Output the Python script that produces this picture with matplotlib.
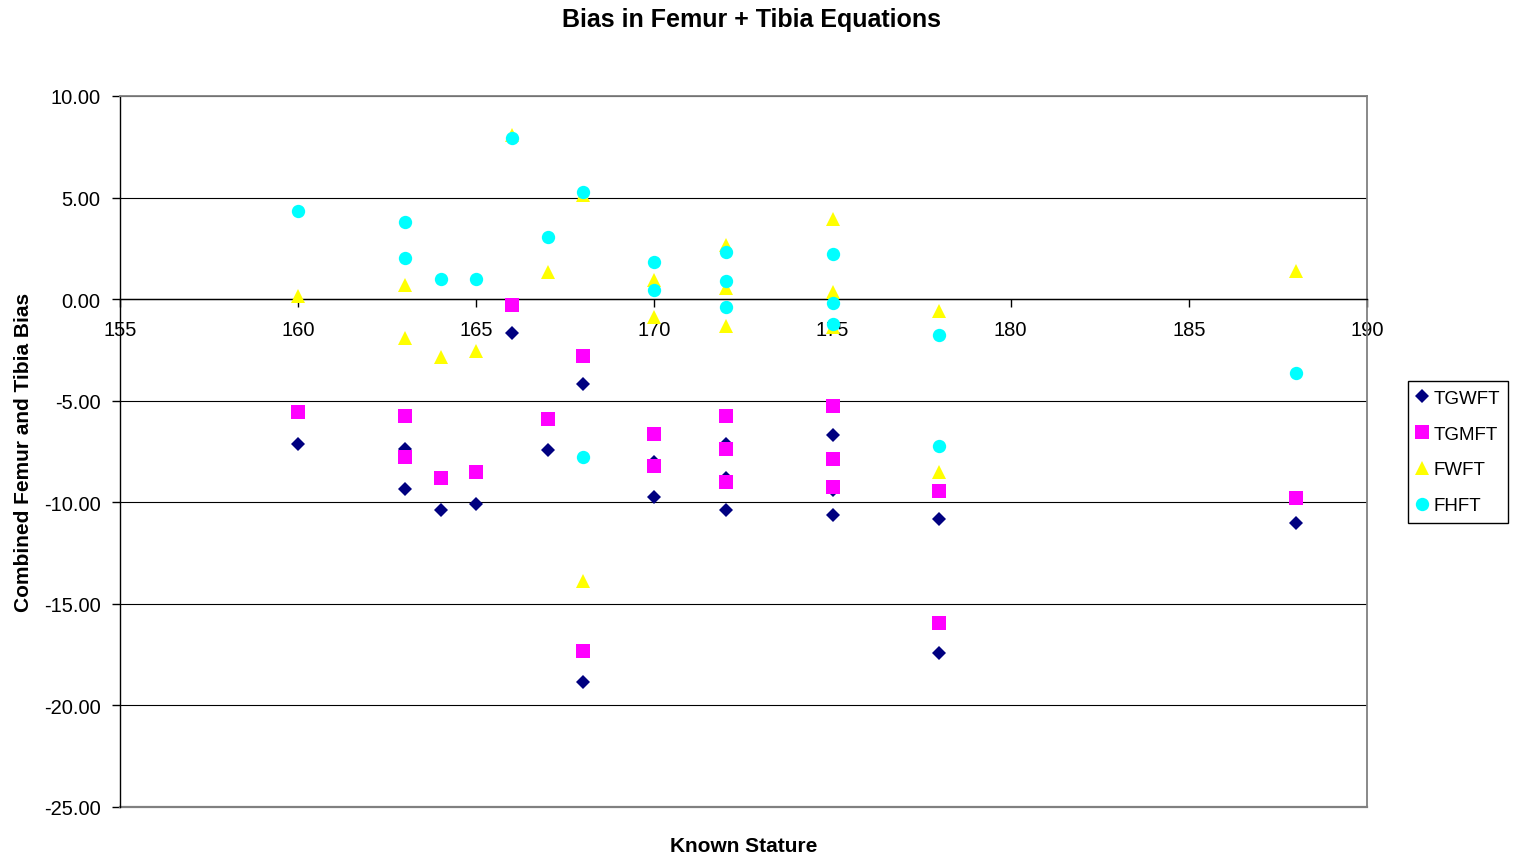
import matplotlib
matplotlib.use("Agg")
import matplotlib.pyplot as plt
from matplotlib.ticker import FuncFormatter, MultipleLocator

plt.rcParams["font.family"] = ["Liberation Sans", "DejaVu Sans"]

# Known stature (cm) for each individual
stature = [160, 163, 163, 164, 165, 166, 167, 168, 168, 170,
           170, 172, 172, 172, 175, 175, 175, 178, 178, 188]

# Combined femur + tibia bias for each equation
tgwft = [-7.14, -7.39, -9.34, -10.37, -10.09, -1.69, -7.42, -4.19, -18.87, -8.04,
         -9.73, -7.14, -8.78, -10.37, -6.68, -9.40, -10.63, -10.83, -17.40, -11.01]
tgmft = [-5.56, -5.74, -7.76, -8.78, -8.50, -0.28, -5.91, -2.79, -17.30, -6.66,
         -8.22, -5.73, -7.40, -8.98, -5.28, -7.88, -9.27, -9.44, -15.92, -9.80]
fwft = [0.15, 0.71, -1.89, -2.87, -2.54, 8.10, 1.36, 5.15, -13.87, 0.95,
        -0.90, 2.66, 0.57, -1.31, 3.94, 0.33, -1.38, -0.57, -8.50, 1.38]
fhft = [4.33, 3.78, 2.02, 0.98, 0.98, 7.93, 3.04, 5.27, -7.76, 1.84,
        0.44, 2.30, 0.90, -0.38, 2.20, -0.20, -1.23, -1.76, -7.22, -3.63]

series = [
    ("TGWFT", tgwft, "D", "#000080", 7.4),
    ("TGMFT", tgmft, "s", "#FF00FF", 9.6),
    ("FWFT", fwft, "^", "#FFFF00", 9.8),
    ("FHFT", fhft, "o", "#00FFFF", 9.6),
]

fig = plt.figure(figsize=(15.15, 8.62), dpi=100)
ax = fig.add_axes([120 / 1515, 1 - 808 / 862, 1247 / 1515, 711 / 862])

for name, vals, mk, col, ms in series:
    ax.plot(stature, vals, linestyle="none", marker=mk, markersize=ms,
            markerfacecolor=col, markeredgecolor=col, markeredgewidth=0,
            label=name, zorder=3)

ax.set_xlim(155, 190)
ax.set_ylim(-25, 10)
ax.xaxis.set_major_locator(MultipleLocator(5))
ax.yaxis.set_major_locator(MultipleLocator(5))
ax.yaxis.set_major_formatter(FuncFormatter(lambda v, p: f"{v:.2f}"))
ax.xaxis.set_major_formatter(FuncFormatter(lambda v, p: f"{v:.0f}"))

ax.grid(axis="y", color="#000000", linewidth=0.8, zorder=1)
ax.set_axisbelow(True)

# Plot-area frame in grey; category axis crosses at zero
for side in ("top", "right"):
    ax.spines[side].set_color("#808080")
    ax.spines[side].set_linewidth(1.3)
ax.spines["left"].set_color("#000000")
ax.spines["left"].set_linewidth(1.0)
ax.spines["bottom"].set_position(("data", 0))
ax.spines["bottom"].set_color("#000000")
ax.spines["bottom"].set_linewidth(1.0)
ax.axhline(-25, color="#808080", linewidth=1.6, zorder=1, clip_on=False)

ax.tick_params(axis="x", direction="out", length=6, width=1, pad=9,
               labelsize=14.5, color="#000000")
ax.tick_params(axis="y", direction="out", length=6, width=1, pad=8,
               labelsize=14.5, color="#000000")

ax.set_xlabel("Known Stature", fontsize=15, fontweight="bold")
ax.xaxis.set_label_coords(0.5, -0.041)
ax.set_ylabel("Combined Femur and Tibia Bias", fontsize=15, fontweight="bold")
ax.yaxis.set_label_coords(-0.07, 0.5)

fig.text(752 / 1515, 1 - 20 / 862, "Bias in Femur + Tibia Equations",
         ha="center", va="center", fontsize=18, fontweight="bold")

leg = ax.legend(loc="center left", bbox_to_anchor=(1408 / 1515, 1 - 453 / 862),
                bbox_transform=fig.transFigure, fontsize=13.5, frameon=True,
                fancybox=False, edgecolor="#000000", framealpha=1,
                handlelength=0.6, handletextpad=0.3, labelspacing=1.0,
                borderpad=0.45, borderaxespad=0)
leg.get_frame().set_linewidth(1.0)

fig.savefig("out.png", dpi=100)
